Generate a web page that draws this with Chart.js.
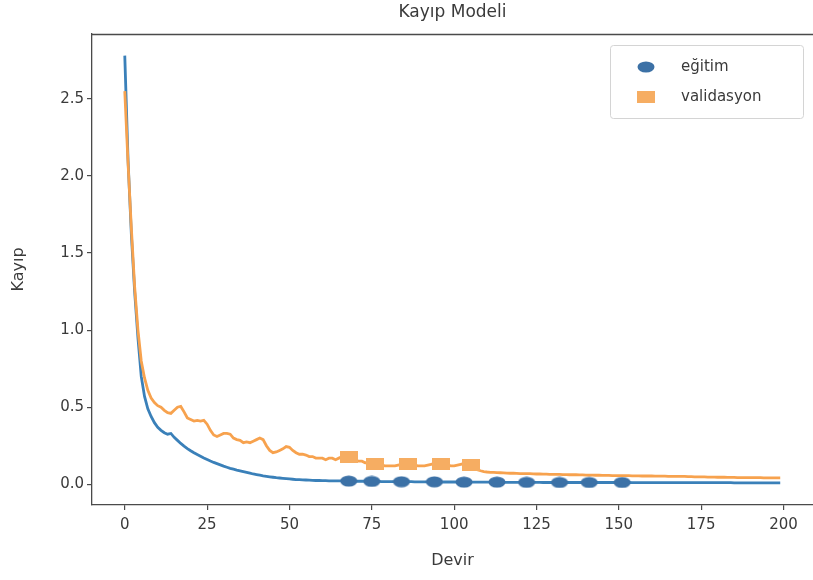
<!DOCTYPE html>
<html>
<head>
<meta charset="utf-8">
<script src="https://cdn.jsdelivr.net/npm/chart.js@4"></script>
<style>
  html, body { margin: 0; padding: 0; background: #ffffff; }
  #wrap { width: 813px; height: 580px; }
</style>
</head>
<body>
<div id="wrap"><canvas id="c" width="813" height="580"></canvas></div>
<script>
// ---- data ----
const chartTitle = "Kayıp Modeli";
const xTitle = "Devir";
const yTitle = "Kayıp";
const seriesNames = ["eğitim", "validasyon"];

const trainLoss = [
  2.78, 2.10, 1.62, 1.25, 0.95, 0.70, 0.57, 0.49, 0.44, 0.40,
  0.37, 0.35, 0.335, 0.325, 0.33, 0.305, 0.285, 0.265, 0.248, 0.232,
  0.218, 0.205, 0.193, 0.182, 0.171, 0.161, 0.151, 0.142, 0.134, 0.126,
  0.118, 0.111, 0.104, 0.098, 0.092, 0.087, 0.082, 0.077, 0.072, 0.067,
  0.063, 0.059, 0.055, 0.052, 0.049, 0.046, 0.043, 0.041, 0.039, 0.037,
  0.035, 0.033, 0.031, 0.030, 0.029, 0.028, 0.027, 0.026, 0.025, 0.025,
  0.024, 0.024, 0.023, 0.023, 0.022, 0.022, 0.022, 0.021, 0.021, 0.021,
  0.020, 0.020, 0.020, 0.020, 0.019, 0.019, 0.019, 0.019, 0.018, 0.018,
  0.018, 0.018, 0.018, 0.017, 0.017, 0.017, 0.017, 0.017, 0.016, 0.016,
  0.016, 0.016, 0.016, 0.016, 0.016, 0.015, 0.015, 0.015, 0.015, 0.015,
  0.015, 0.015, 0.015, 0.014, 0.014, 0.014, 0.014, 0.014, 0.014, 0.014,
  0.014, 0.014, 0.014, 0.014, 0.013, 0.013, 0.013, 0.013, 0.013, 0.013,
  0.013, 0.013, 0.013, 0.013, 0.013, 0.013, 0.013, 0.012, 0.012, 0.012,
  0.012, 0.012, 0.012, 0.012, 0.012, 0.012, 0.012, 0.012, 0.012, 0.012,
  0.012, 0.012, 0.012, 0.012, 0.012, 0.012, 0.012, 0.012, 0.012, 0.012,
  0.012, 0.012, 0.012, 0.012, 0.011, 0.011, 0.011, 0.011, 0.011, 0.011,
  0.011, 0.011, 0.011, 0.011, 0.011, 0.011, 0.011, 0.011, 0.011, 0.011,
  0.011, 0.011, 0.011, 0.011, 0.011, 0.011, 0.011, 0.011, 0.011, 0.011,
  0.011, 0.011, 0.011, 0.011, 0.011, 0.010, 0.010, 0.010, 0.010, 0.010,
  0.010, 0.010, 0.010, 0.010, 0.010, 0.010, 0.010, 0.010, 0.010, 0.010
];

const valLoss = [
  2.55, 2.08, 1.66, 1.28, 1.00, 0.80, 0.69, 0.61, 0.56, 0.53,
  0.51, 0.50, 0.48, 0.465, 0.46, 0.48, 0.50, 0.505, 0.47, 0.43,
  0.42, 0.41, 0.415, 0.41, 0.415, 0.39, 0.35, 0.32, 0.31, 0.32,
  0.33, 0.33, 0.325, 0.30, 0.29, 0.285, 0.27, 0.275, 0.27, 0.28,
  0.29, 0.30, 0.29, 0.25, 0.22, 0.205, 0.21, 0.22, 0.23, 0.245,
  0.24, 0.22, 0.205, 0.195, 0.195, 0.19, 0.18, 0.18, 0.17, 0.17,
  0.17, 0.16, 0.17, 0.17, 0.16, 0.17, 0.18, 0.18, 0.18, 0.17,
  0.16, 0.15, 0.15, 0.14, 0.14, 0.14, 0.135, 0.13, 0.125, 0.12,
  0.12, 0.12, 0.12, 0.125, 0.13, 0.13, 0.135, 0.13, 0.125, 0.12,
  0.12, 0.12, 0.125, 0.13, 0.135, 0.135, 0.135, 0.13, 0.125, 0.12,
  0.12, 0.125, 0.13, 0.135, 0.135, 0.125, 0.105, 0.095, 0.088, 0.083,
  0.080, 0.078, 0.077, 0.076, 0.075, 0.074, 0.073, 0.072, 0.072, 0.071,
  0.070, 0.070, 0.069, 0.069, 0.068, 0.067, 0.067, 0.066, 0.066, 0.065,
  0.065, 0.064, 0.064, 0.063, 0.063, 0.062, 0.062, 0.062, 0.061, 0.061,
  0.060, 0.060, 0.060, 0.059, 0.059, 0.058, 0.058, 0.058, 0.057, 0.057,
  0.057, 0.056, 0.056, 0.056, 0.055, 0.055, 0.055, 0.054, 0.054, 0.054,
  0.054, 0.053, 0.053, 0.053, 0.053, 0.052, 0.052, 0.052, 0.052, 0.051,
  0.051, 0.050, 0.050, 0.049, 0.049, 0.048, 0.048, 0.047, 0.047, 0.047,
  0.046, 0.046, 0.046, 0.045, 0.045, 0.045, 0.044, 0.044, 0.044, 0.044,
  0.043, 0.043, 0.043, 0.043, 0.042, 0.042, 0.042, 0.042, 0.042, 0.042
];

// epochs at which markers appear in the picture
const trainMarkerEpochs = [68, 75, 84, 94, 103, 113, 122, 132, 141, 151];
const valMarkerEpochs = [68, 76, 86, 96, 105];

const xTickValues = [0, 25, 50, 75, 100, 125, 150, 175, 200];
const yTickValues = [0.0, 0.5, 1.0, 1.5, 2.0, 2.5];

// ---- styling ----
const lineBlue = '#3a80b9';
const lineOrange = '#f7a24e';
const markBlue = '#3c71a6';
const markOrange = '#f6ad62';
const textColor = '#3a3a3a';
const spineColor = '#4a4a4a';
const FONT = "'DejaVu Sans', sans-serif";

function makeMarker(shape, w, h, color) {
  const cv = document.createElement('canvas');
  cv.width = w; cv.height = h;
  const g = cv.getContext('2d');
  g.fillStyle = color;
  if (shape === 'ellipse') {
    g.beginPath();
    g.ellipse(w / 2, h / 2, w / 2 - 0.5, h / 2 - 0.5, 0, 0, Math.PI * 2);
    g.fill();
  } else {
    g.fillRect(0, 0, w, h);
  }
  return cv;
}
const blueMarker = makeMarker('ellipse', 18, 12, markBlue);
const orangeMarker = makeMarker('rect', 18, 12, markOrange);

const epochs = trainLoss.map((_, i) => i);
const trainPts = epochs.map((e, i) => ({ x: e, y: trainLoss[i] }));
const valPts = epochs.map((e, i) => ({ x: e, y: valLoss[i] }));

const topSpine = {
  id: 'topSpine',
  afterDraw(chart) {
    const { ctx, chartArea } = chart;
    ctx.save();
    ctx.strokeStyle = spineColor;
    ctx.lineWidth = 1.3;
    ctx.beginPath();
    ctx.moveTo(chartArea.left, chartArea.top + 0.5);
    ctx.lineTo(chartArea.right, chartArea.top + 0.5);
    ctx.stroke();
    ctx.restore();
  }
};

const boxLegend = {
  id: 'boxLegend',
  afterDatasetsDraw(chart) {
    const { ctx, chartArea } = chart;
    const w = 193, h = 73;
    const x0 = chartArea.right - 10 - w;
    const y0 = chartArea.top + 11;
    ctx.save();
    ctx.fillStyle = 'rgba(255,255,255,0.85)';
    ctx.strokeStyle = '#d4d4d4';
    ctx.lineWidth = 1;
    ctx.beginPath();
    ctx.roundRect(x0 + 0.5, y0 + 0.5, w, h, 3);
    ctx.fill();
    ctx.stroke();
    const markers = [blueMarker, orangeMarker];
    ctx.font = '15px ' + FONT;
    ctx.fillStyle = textColor;
    ctx.textBaseline = 'middle';
    ctx.textAlign = 'left';
    chart.data.datasets.forEach((ds, i) => {
      const cy = y0 + 22 + i * 30;
      const m = markers[i];
      ctx.drawImage(m, x0 + 36 - m.width / 2, cy - m.height / 2);
      ctx.fillText(ds.label, x0 + 71, cy);
    });
    ctx.restore();
  }
};

new Chart(document.getElementById('c'), {
  type: 'line',
  data: {
    datasets: [
      {
        label: seriesNames[0],
        data: trainPts,
        borderColor: lineBlue,
        backgroundColor: markBlue,
        borderWidth: 2.8,
        tension: 0,
        fill: false,
        order: 1,
        pointStyle: blueMarker,
        pointRadius: ctx => trainMarkerEpochs.includes(ctx.raw && ctx.raw.x) ? 9 : 0,
        pointHoverRadius: 0
      },
      {
        label: seriesNames[1],
        data: valPts,
        borderColor: lineOrange,
        backgroundColor: markOrange,
        borderWidth: 2.8,
        tension: 0,
        fill: false,
        order: 0,
        pointStyle: orangeMarker,
        pointRadius: ctx => valMarkerEpochs.includes(ctx.raw && ctx.raw.x) ? 9 : 0,
        pointHoverRadius: 0
      }
    ]
  },
  options: {
    responsive: false,
    animation: false,
    events: [],
    layout: { padding: 0 },
    plugins: {
      legend: { display: false },
      tooltip: { enabled: false },
      title: {
        display: true,
        fullSize: false,
        text: chartTitle,
        color: textColor,
        font: { family: FONT, size: 17, weight: 'normal' },
        padding: { top: 2, bottom: 11.6 }
      }
    },
    scales: {
      x: {
        type: 'linear',
        min: -9.95,
        max: 208.95,
        afterFit: s => { s.height = 75; },
        afterBuildTicks: s => { s.ticks = xTickValues.map(v => ({ value: v })); },
        grid: { display: true, drawOnChartArea: false, drawTicks: true, tickLength: 5, color: spineColor, lineWidth: 1.2 },
        border: { display: true, color: spineColor, width: 1.3 },
        ticks: { color: textColor, font: { family: FONT, size: 15 }, padding: 6, maxRotation: 0, autoSkip: false },
        title: { display: true, text: xTitle, color: textColor, font: { family: FONT, size: 16 }, padding: { top: 0, bottom: 10 } }
      },
      y: {
        type: 'linear',
        min: -0.134,
        max: 2.92,
        afterFit: s => { s.width = 92; },
        afterBuildTicks: s => { s.ticks = yTickValues.map(v => ({ value: v })); },
        grid: { display: true, drawOnChartArea: false, drawTicks: true, tickLength: 5, color: spineColor, lineWidth: 1.2 },
        border: { display: true, color: spineColor, width: 1.3 },
        ticks: { color: textColor, font: { family: FONT, size: 15 }, padding: 3, callback: v => Number(v).toFixed(1) },
        title: { display: true, text: yTitle, color: textColor, font: { family: FONT, size: 16 }, padding: { top: 9, bottom: 0 } }
      }
    }
  },
  plugins: [topSpine, boxLegend]
});
</script>
</body>
</html>
